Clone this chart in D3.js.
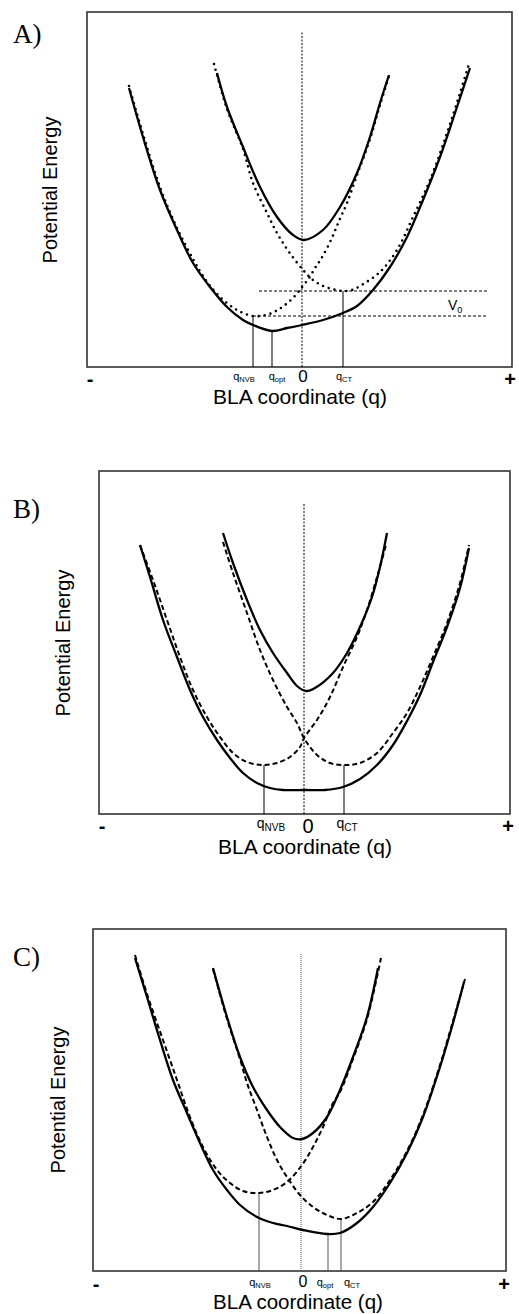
<!DOCTYPE html>
<html>
<head>
<meta charset="utf-8">
<script src="https://cdn.jsdelivr.net/npm/d3@7"></script>
<style>
  body { margin: 0; background: #fff; }
  text { font-family: "Liberation Sans", Arial, sans-serif; fill: #000; }
</style>
</head>
<body>
<script>
var groundA = [[-17.3,27.9],[-15.9,23.0],[-14.2,17.7],[-12.5,13.7],[-10.9,10.4],[-9.2,8.0],[-7.5,6.0],[-5.9,4.7],[-4.9,4.2],[-3.0,3.6],[-1.5,3.9],[0,4.2],[2.1,4.7],[4.1,5.4],[5.5,6.1],[7.1,7.7],[8.8,10.0],[10.5,13.0],[12.1,16.7],[13.8,21.0],[15.5,26.0],[16.8,29.9]];
var excitedA = [[-8.5,29.4],[-7.5,26.0],[-5.9,22.0],[-4.2,18.0],[-2.5,15.0],[-0.9,13.2],[0.2,12.7],[2.1,13.7],[3.8,16.0],[5.5,19.4],[6.8,23.0],[7.8,26.4],[8.7,29.2]];
var nvbA = [[-17.3,28.1],[-15.9,23.3],[-14.2,18.0],[-12.5,13.9],[-10.9,10.8],[-9.9,9.1],[-8.4,7.2],[-6.5,5.7],[-4.9,5.1],[-3.6,5.2],[-2.6,5.6],[-1.7,6.2],[-0.8,7.0],[0,8.0],[0.7,8.9],[1.3,9.9],[1.9,10.8],[2.9,12.7],[3.7,14.6],[4.5,16.4],[5.5,19.2],[6.8,22.8],[7.8,26.2],[8.7,29.1]];
var ctA = [[-8.8,30.3],[-7.5,25.8],[-5.9,21.8],[-4.9,18.4],[-3.5,15.4],[-2.5,13.4],[-1.3,11.5],[0.2,9.6],[1.1,8.7],[2.1,8.1],[3.0,7.8],[4.1,7.6],[5.0,7.7],[5.8,8.1],[7.8,9.5],[9.5,11.7],[11.1,15.0],[12.8,18.7],[14.5,23.4],[15.8,27.4],[16.7,30.3]];
var marksA = [["NVB",-4.9,5.1],["opt",-3.0,3.6],["CT",4.1,7.6]];
var v0LinesA = [[-4.3,18.5,7.6],[-4.9,18.5,5.1]];

var groundB = [[-16.4,26.9],[-15.4,23.7],[-14.1,19.4],[-12.7,15.7],[-11.4,12.4],[-10.1,9.7],[-8.7,7.4],[-7.4,5.6],[-6.1,4.1],[-4.7,3.1],[-3.4,2.6],[-2.1,2.4],[0.1,2.4],[2.1,2.4],[3.9,2.7],[5.6,3.5],[7.3,4.9],[8.9,6.9],[10.3,9.3],[11.6,11.9],[12.9,15.2],[14.3,18.7],[15.6,22.6],[16.5,26.6]];
var excitedB = [[-8.1,28.1],[-7.1,25.1],[-5.7,21.4],[-4.4,18.4],[-3.1,16.1],[-1.7,14.1],[-0.7,12.8],[0.2,12.3],[1.1,12.6],[2.9,14.1],[4.3,16.1],[5.6,18.7],[6.8,21.7],[7.6,24.7],[8.3,28.1]];
var nvbB = [[-16.4,26.9],[-15.1,23.4],[-13.7,19.4],[-12.4,15.7],[-11.1,12.4],[-9.7,9.7],[-8.4,7.7],[-7.1,6.1],[-5.7,5.2],[-4.1,4.9],[-2.7,5.1],[-1.4,5.7],[-0.4,6.7],[0,7.6],[1.3,9.4],[2.6,11.7],[3.9,14.7],[5.3,17.7],[6.3,20.4],[7.3,23.7],[8.2,26.9]];
var ctB = [[-8.1,27.2],[-7.1,24.1],[-5.7,20.1],[-4.4,16.4],[-3.1,13.4],[-1.7,10.7],[-0.7,9.1],[0,7.6],[1.3,5.9],[2.6,5.1],[4.1,4.9],[5.6,5.1],[7.3,6.1],[8.9,8.1],[10.3,10.1],[11.6,12.7],[12.9,15.7],[14.3,19.1],[15.6,23.1],[16.5,26.9]];
var marksB = [["NVB",-4.0,4.9],["CT",4.0,4.9]];

var groundC = [[-16.6,31.3],[-15.4,27.4],[-14.1,23.1],[-12.8,19.1],[-11.4,15.8],[-10.1,12.8],[-8.8,10.1],[-7.4,8.1],[-6.1,6.6],[-4.4,5.4],[-2.8,4.8],[-1.4,4.5],[0.2,4.1],[2.6,3.7],[3.9,3.8],[5.6,4.8],[7.2,6.4],[8.9,8.8],[10.6,11.8],[12.2,15.4],[13.9,20.4],[15.2,24.8],[16.3,28.9]];
var excitedC = [[-8.8,30.3],[-7.4,25.4],[-6.1,21.4],[-4.8,18.4],[-3.4,16.1],[-2.1,14.4],[-0.8,13.3],[0.1,13.2],[1.2,13.8],[2.6,15.4],[3.9,18.1],[5.2,21.4],[6.6,25.4],[7.7,30.3]];
var nvbC = [[-16.6,31.6],[-15.3,27.4],[-13.8,23.1],[-12.4,19.1],[-11.1,15.4],[-9.8,12.4],[-8.4,10.1],[-7.1,8.8],[-5.8,8.0],[-4.2,7.8],[-2.8,8.1],[-1.4,8.9],[0.1,10.6],[1.2,12.4],[2.2,14.4],[3.2,16.8],[3.9,17.9],[5.2,21.2],[6.6,25.2],[8.0,31.3]];
var ctC = [[-8.8,30.2],[-7.4,25.2],[-6.1,21.2],[-5.4,18.8],[-4.4,16.1],[-3.4,13.4],[-2.4,11.1],[-1.4,9.4],[-0.1,7.6],[1.2,6.4],[2.6,5.6],[4.0,5.2],[5.6,5.8],[7.2,6.9],[8.9,9.1],[10.6,12.0],[12.2,15.6],[13.9,20.6],[15.2,25.0],[16.4,29.2]];
var marksC = [["NVB",-4.2,7.8],["opt",2.7,3.7],["CT",4.0,5.2]];

var endLabels = ["-", "+"];
var zeroLabel = "0";
var xTitle = "BLA coordinate (q)";
var yTitle = "Potential Energy";

var panels = [
  {name: "A)", ground: groundA, excited: excitedA, nvb: nvbA, ct: ctA, marks: marksA, v0: v0LinesA,
   left: 87, right: 512, top: 12, bottom: 367, q: [-21.5, 21.0], e: [0, 35.5], centreTop: 33.6,
   dash: "0,6", cap: "round", diaWidth: 2.6, centreDash: "2,1.5", markColor: "#000",
   nameY: 43, yTitleX: 57, yTitleY: 190, endY: 386, zeroY: 382, zeroSize: 17, zeroDx: 1,
   qY: 380, qSize: 11, subSize: 7.5, qShift: [-9, 5, 1], titleY: 404, titleSize: 21, titleX: 300},
  {name: "B)", ground: groundB, excited: excitedB, nvb: nvbB, ct: ctB, marks: marksB, v0: [],
   left: 99, right: 510, top: 471, bottom: 814, q: [-20.5, 20.6], e: [0, 34.3], centreTop: 31.1,
   dash: "5,3", cap: "butt", diaWidth: 2, centreDash: "2,1.5", markColor: "#000",
   nameY: 518, yTitleX: 70, yTitleY: 643, endY: 833, zeroY: 833, zeroSize: 20, zeroDx: 4,
   qY: 828, qSize: 14, subSize: 10, qShift: [7, 3], titleY: 854, titleSize: 21, titleX: 305},
  {name: "C)", ground: groundC, excited: excitedC, nvb: nvbC, ct: ctC, marks: marksC, v0: [],
   left: 93, right: 506, top: 929, bottom: 1271, q: [-20.8, 20.5], e: [0, 34.2], centreTop: 31.8,
   dash: "5,3", cap: "butt", diaWidth: 2, centreDash: "1,1", markColor: "#555",
   nameY: 966, yTitleX: 65, yTitleY: 1100, endY: 1291, zeroY: 1287, zeroSize: 16, zeroDx: 2,
   qY: 1286, qSize: 11, subSize: 7.5, qShift: [1, -3, 11], titleY: 1309, titleSize: 20.5, titleX: 298}
];

var svg = d3.select("body").append("svg")
  .attr("width", 519)
  .attr("height", 1314);

svg.append("rect").attr("width", 519).attr("height", 1314).attr("fill", "#fff");

function drawPanel(p) {
  var x = d3.scaleLinear().domain(p.q).range([p.left, p.right]);
  var y = d3.scaleLinear().domain(p.e).range([p.bottom, p.top]);
  var line = d3.line()
    .x(function(d) { return x(d[0]); })
    .y(function(d) { return y(d[1]); })
    .curve(d3.curveCatmullRom.alpha(0.5));

  var g = svg.append("g");

  // frame
  g.append("rect")
    .attr("x", p.left).attr("y", p.top)
    .attr("width", p.right - p.left).attr("height", p.bottom - p.top)
    .attr("fill", "none").attr("stroke", "#333").attr("stroke-width", 1.6);

  // q = 0 line
  g.append("line")
    .attr("x1", x(0)).attr("x2", x(0))
    .attr("y1", y(0)).attr("y2", y(p.centreTop))
    .attr("stroke", p.markColor).attr("stroke-width", 1)
    .attr("stroke-dasharray", p.centreDash);

  // V0 levels (panel A only)
  g.selectAll(".v0").data(p.v0).enter().append("line")
    .attr("x1", function(d) { return x(d[0]); })
    .attr("x2", function(d) { return x(d[1]); })
    .attr("y1", function(d) { return y(d[2]); })
    .attr("y2", function(d) { return y(d[2]); })
    .attr("stroke", "#000").attr("stroke-width", 1)
    .attr("stroke-dasharray", "3,2");

  // marks down to the axis
  g.selectAll(".mark").data(p.marks).enter().append("line")
    .attr("x1", function(d) { return x(d[1]); })
    .attr("x2", function(d) { return x(d[1]); })
    .attr("y1", function(d) { return y(d[2]); })
    .attr("y2", y(0))
    .attr("stroke", p.markColor).attr("stroke-width", 1);

  // diabatic NVB and CT curves
  [p.nvb, p.ct].forEach(function(c) {
    g.append("path").attr("d", line(c))
      .attr("fill", "none").attr("stroke", "#000")
      .attr("stroke-width", p.diaWidth)
      .attr("stroke-dasharray", p.dash)
      .attr("stroke-linecap", p.cap);
  });

  // adiabatic ground and excited curves
  [p.ground, p.excited].forEach(function(c) {
    g.append("path").attr("d", line(c))
      .attr("fill", "none").attr("stroke", "#000")
      .attr("stroke-width", 2.3)
      .attr("stroke-linejoin", "round");
  });

  // panel letter
  g.append("text")
    .attr("x", 13).attr("y", p.nameY)
    .style("font-family", "'Liberation Serif', 'Times New Roman', serif")
    .style("font-size", "27px")
    .text(p.name);

  // y title
  g.append("text")
    .attr("transform", "translate(" + p.yTitleX + "," + p.yTitleY + ") rotate(-90)")
    .attr("text-anchor", "middle")
    .style("font-size", "20px")
    .text(yTitle);

  // - and + at the ends of the axis
  g.selectAll(".end").data(endLabels).enter().append("text")
    .attr("x", function(d, i) { return i === 0 ? p.left + 3 : p.right - 2; })
    .attr("y", p.endY)
    .attr("text-anchor", "middle")
    .style("font-size", "20px")
    .style("font-weight", "bold")
    .text(function(d) { return d; });

  g.append("text")
    .attr("x", x(0) + p.zeroDx).attr("y", p.zeroY)
    .attr("text-anchor", "middle")
    .style("font-size", p.zeroSize + "px")
    .text(zeroLabel);

  // q labels
  var ql = g.selectAll(".qlab").data(p.marks).enter().append("text")
    .attr("x", function(d, i) { return x(d[1]) + p.qShift[i]; })
    .attr("y", p.qY)
    .attr("text-anchor", "middle")
    .style("font-size", p.qSize + "px");
  ql.append("tspan").text("q");
  ql.append("tspan")
    .attr("dy", p.qSize * 0.2)
    .style("font-size", p.subSize + "px")
    .text(function(d) { return d[0]; });

  if (p.v0.length) {
    var v = g.append("text")
      .attr("x", 448).attr("y", 310)
      .style("font-size", "14px");
    v.append("tspan").text("V");
    v.append("tspan").attr("dy", 3).style("font-size", "9px").text("0");
  }

  // x title
  g.append("text")
    .attr("x", p.titleX).attr("y", p.titleY)
    .attr("text-anchor", "middle")
    .style("font-size", p.titleSize + "px")
    .text(xTitle);
}

panels.forEach(drawPanel);
</script>
</body>
</html>
